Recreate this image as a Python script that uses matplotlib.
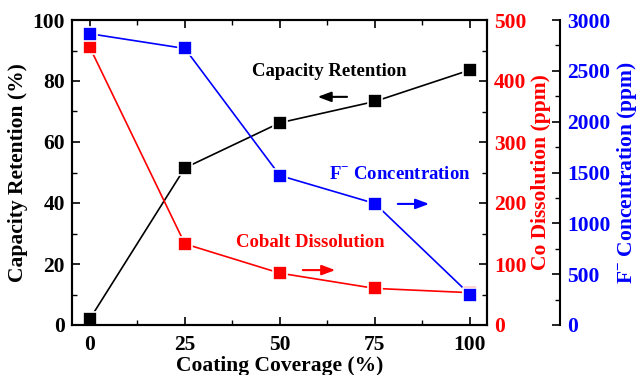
import matplotlib
matplotlib.use("Agg")
import matplotlib.pyplot as plt
from matplotlib.ticker import MultipleLocator

coverage = [0, 25, 50, 75, 100]
capacity_retention = [2.0, 51.5, 66.3, 73.3, 83.6]
co_dissolution = [455, 133, 85, 60, 53]
f_concentration = [2865, 2720, 1470, 1195, 300]

plt.rcParams['font.family'] = ['Liberation Serif', 'DejaVu Serif']
plt.rcParams['font.weight'] = 'bold'
plt.rcParams['mathtext.fontset'] = 'custom'
plt.rcParams['mathtext.rm'] = 'Liberation Serif:bold'
plt.rcParams['mathtext.bf'] = 'Liberation Serif:bold'

fig = plt.figure(figsize=(6.43, 3.75), dpi=100)
ax = fig.add_axes([72/643, 50/375, 415/643, 305/375])
ax2 = ax.twinx()
ax3 = ax.twinx()
ax3.spines['right'].set_position(('axes', 1.176))
for s in ['top', 'left', 'bottom']:
    ax3.spines[s].set_visible(False)

mk = dict(marker='s', markersize=9.5, markeredgecolor='white', markeredgewidth=1.2, lw=1.2)
ax.plot(coverage, capacity_retention, color='black', markerfacecolor='black', **mk)
ax2.plot(coverage, co_dissolution, color='red', markerfacecolor='red', **mk)
ax3.plot(coverage, f_concentration, color='blue', markerfacecolor='blue', **mk)

ax.set_xlim(-4.7, 104.5)
ax.set_ylim(0, 100)
ax2.set_ylim(0, 500)
ax3.set_ylim(0, 3000)

ax.xaxis.set_major_locator(MultipleLocator(25))
ax.xaxis.set_minor_locator(MultipleLocator(12.5))
ax.yaxis.set_major_locator(MultipleLocator(20))
ax.yaxis.set_minor_locator(MultipleLocator(10))
ax2.yaxis.set_major_locator(MultipleLocator(100))
ax2.yaxis.set_minor_locator(MultipleLocator(50))
ax3.yaxis.set_major_locator(MultipleLocator(500))
ax3.yaxis.set_minor_locator(MultipleLocator(250))

for a in (ax, ax2, ax3):
    a.tick_params(which='major', direction='in', length=6, width=1.2, labelsize=15.5, pad=5)
    a.tick_params(which='minor', direction='in', length=3.5, width=1.0)
    for s in a.spines.values():
        s.set_linewidth(1.5)
ax.tick_params(axis='x', which='both', top=True, pad=7)
ax.tick_params(axis='y', which='both', right=False)
ax2.tick_params(axis='y', labelcolor='red')
ax3.tick_params(axis='y', labelcolor='blue')

for lab in ax.get_xticklabels() + ax.get_yticklabels() + ax2.get_yticklabels() + ax3.get_yticklabels():
    lab.set_fontweight('bold')

ax.set_xlabel('Coating Coverage (%)', fontsize=15.5, fontweight='bold', labelpad=1)
ax.set_ylabel('Capacity Retention (%)', fontsize=15.5, fontweight='bold', labelpad=3)
ax2.set_ylabel('Co Dissolution (ppm)', fontsize=15.5, fontweight='bold', color='red', labelpad=3)
ax3.set_ylabel(r'F$^{-}$ Concentration (ppm)', fontsize=15.5, fontweight='bold', color='blue', labelpad=3)

ax.text(63, 83, 'Capacity Retention', fontsize=13.5, fontweight='bold', color='black', ha='center', va='center')
ax.text(81.6, 49.5, r'F$^{-}$ Concentration', fontsize=13.5, fontweight='bold', color='blue', ha='center', va='center')
ax.text(58, 26.9, 'Cobalt Dissolution', fontsize=13.5, fontweight='bold', color='red', ha='center', va='center')

arrow = dict(arrowstyle='-|>,head_length=0.8,head_width=0.3', lw=1.5)
ax.annotate('', xy=(59.2, 74.8), xytext=(68.4, 74.8), arrowprops=dict(color='black', **arrow))
ax.annotate('', xy=(90.0, 39.7), xytext=(80.3, 39.7), arrowprops=dict(color='blue', **arrow))
ax.annotate('', xy=(65.3, 18.0), xytext=(55.3, 18.0), arrowprops=dict(color='red', **arrow))

fig.savefig('out.png', dpi=100)
